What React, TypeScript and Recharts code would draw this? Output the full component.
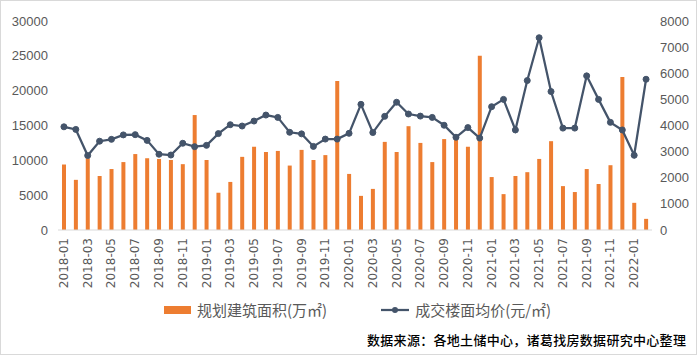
import React from 'react';
import { ComposedChart, Bar, Line, XAxis, YAxis } from 'recharts';

const months = [
  '2018-01', '2018-02', '2018-03', '2018-04', '2018-05', '2018-06', '2018-07', '2018-08', '2018-09', '2018-10', '2018-11', '2018-12',
  '2019-01', '2019-02', '2019-03', '2019-04', '2019-05', '2019-06', '2019-07', '2019-08', '2019-09', '2019-10', '2019-11', '2019-12',
  '2020-01', '2020-02', '2020-03', '2020-04', '2020-05', '2020-06', '2020-07', '2020-08', '2020-09', '2020-10', '2020-11', '2020-12',
  '2021-01', '2021-02', '2021-03', '2021-04', '2021-05', '2021-06', '2021-07', '2021-08', '2021-09', '2021-10', '2021-11', '2021-12',
  '2022-01', '2022-02',
];

// 规划建筑面积（万㎡）
const plannedArea = [
  9400, 7200, 10300, 7750, 8750, 9750, 10900, 10300, 10200, 10050, 9450, 16500,
  10050, 5350, 6900, 10500, 11950, 11200, 11350, 9250, 11500, 10050, 10750, 21400,
  8050, 4900, 5900, 12650, 11200, 14900, 12500, 9750, 13050, 13300, 11950, 25000,
  7600, 5150, 7750, 8300, 10200, 12750, 6300, 5450, 8750, 6600, 9300, 21950,
  3900, 1600,
];

// 成交楼面均价（元/㎡）
const avgPrice = [
  3950, 3850, 2850, 3400, 3470, 3640, 3650, 3430, 2900, 2870, 3320, 3190,
  3240, 3690, 4030, 3980, 4170, 4400, 4310, 3740, 3680, 3200, 3480, 3480,
  3700, 4810, 3730, 4350, 4890, 4440, 4360, 4310, 4010, 3550, 3920, 3520,
  4720, 5000, 3830, 5720, 7360, 5300, 3900, 3900, 5900, 5000, 4120, 3830,
  2860, 5770,
];

const leftTicks = [0, 5000, 10000, 15000, 20000, 25000, 30000];
const rightTicks = [0, 1000, 2000, 3000, 4000, 5000, 6000, 7000, 8000];

const areaName = '规划建筑面积(万㎡)';
const priceName = '成交楼面均价(元/㎡)';
const sourceNote = '数据来源：各地土储中心，诸葛找房数据研究中心整理';

const BAR_COLOR = '#ED7D31';
const LINE_COLOR = '#44546A';
const TEXT_COLOR = '#595959';

const data = months.map((m, i) => ({ month: m, area: plannedArea[i], price: avgPrice[i] }));

const MonthTick = (props: any) => {
  const { x, y, payload } = props;
  return (
    <text
      x={x}
      y={y}
      transform={`rotate(-90, ${x}, ${y})`}
      textAnchor="end"
      dominantBaseline="central"
      fontSize={12}
      fontFamily="DejaVu Sans"
      fill={TEXT_COLOR}
    >
      {payload.value}
    </text>
  );
};

const App: React.FC = () => {
  const tickStyle = { fontSize: 13, fill: TEXT_COLOR, fontFamily: 'Liberation Sans' };

  return (
    <div
      style={{
        position: 'absolute',
        left: 0,
        top: 0,
        width: 697,
        height: 355,
        boxSizing: 'border-box',
        border: '1px solid #d9d9d9',
        background: '#fff',
      }}
    >
      <div style={{ position: 'absolute', left: -1, top: -1 }}>
        <ComposedChart width={697} height={300} data={data} margin={{ top: 21, right: 0, bottom: 0, left: 0 }}>
          <XAxis
            dataKey="month"
            interval={1}
            height={70}
            tickLine={false}
            axisLine={{ stroke: '#d9d9d9' }}
            tick={<MonthTick />}
          />
          <YAxis
            yAxisId="left"
            width={58}
            domain={[0, 30000]}
            ticks={leftTicks}
            axisLine={false}
            tickLine={false}
            tickMargin={4}
            tick={tickStyle}
          />
          <YAxis
            yAxisId="right"
            orientation="right"
            width={45}
            domain={[0, 8000]}
            ticks={rightTicks}
            axisLine={false}
            tickLine={false}
            tick={{ ...tickStyle, textAnchor: 'start' }}
          />
          <Bar yAxisId="left" dataKey="area" name={areaName} fill={BAR_COLOR} barSize={4} isAnimationActive={false} />
          <Line
            yAxisId="right"
            dataKey="price"
            name={priceName}
            stroke={LINE_COLOR}
            strokeWidth={2.25}
            dot={{ r: 3, fill: LINE_COLOR, stroke: LINE_COLOR, strokeWidth: 1 }}
            isAnimationActive={false}
          />
        </ComposedChart>
      </div>

      {/* legend */}
      <div
        style={{
          position: 'absolute',
          left: 163,
          top: 298,
          display: 'flex',
          alignItems: 'center',
          fontFamily: '"Noto Sans CJK SC", sans-serif',
          fontSize: 15,
          color: TEXT_COLOR,
          whiteSpace: 'nowrap',
        }}
      >
        <span style={{ display: 'inline-block', width: 27, height: 8, background: BAR_COLOR, marginRight: 6 }} />
        <span>{areaName}</span>
        <svg width={28} height={10} style={{ marginLeft: 54, marginRight: 6 }}>
          <line x1={0} y1={5} x2={28} y2={5} stroke={LINE_COLOR} strokeWidth={2.25} />
          <circle cx={14} cy={5} r={3} fill={LINE_COLOR} />
        </svg>
        <span>{priceName}</span>
      </div>

      <div
        style={{
          position: 'absolute',
          left: 366,
          top: 329,
          fontFamily: '"Noto Sans CJK SC", sans-serif',
          fontSize: 13,
          fontWeight: 500,
          letterSpacing: 0.3,
          color: '#000',
          whiteSpace: 'nowrap',
        }}
      >
        {sourceNote}
      </div>
    </div>
  );
};

export default App;
